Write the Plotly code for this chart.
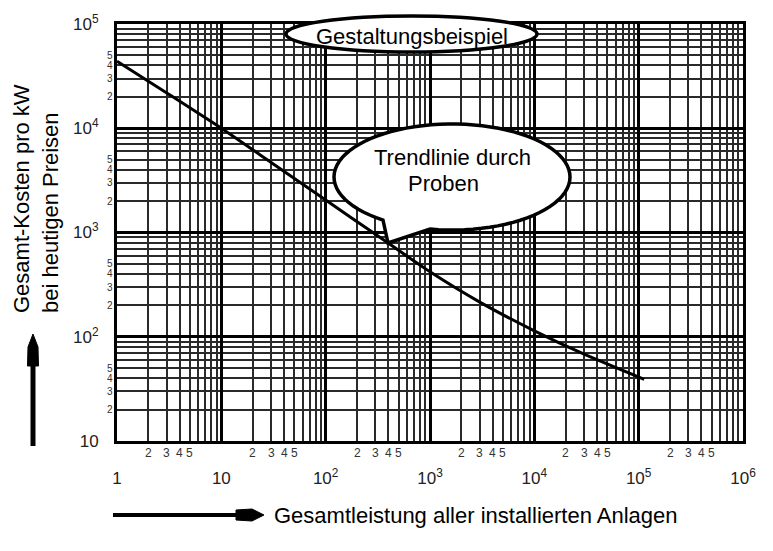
import math
import plotly.graph_objects as go

# ---- data ----
leistung = [1, 3, 10, 30, 100, 300, 1000, 3000, 10000, 30000, 113000]
kosten = [44000, 21800, 10000, 4700, 2050, 960, 420, 215, 114, 68, 39]

x_major = [1, 10, 100, 1000, 10000, 100000, 1000000]
x_major_text = ["1", "10", "10<sup>2</sup>", "10<sup>3</sup>", "10<sup>4</sup>", "10<sup>5</sup>", "10<sup>6</sup>"]
y_major = [10, 100, 1000, 10000, 100000]
y_major_text = ["10", "10<sup>2</sup>", "10<sup>3</sup>", "10<sup>4</sup>", "10<sup>5</sup>"]
minor_digits = [2, 3, 4, 5, 6, 7, 8, 9]
labelled_digits = [2, 3, 4, 5]

x_title = "Gesamtleistung aller installierten Anlagen"
y_title = "Gesamt-Kosten pro kW<br>bei heutigen Preisen"
bubble_top = "Gestaltungsbeispiel"
bubble_lines = ["Trendlinie durch", "Proben"]

W, H = 773, 551
L, R, T, B = 117, 30, 24, 110
PW, PH = W - L - R, H - T - B
FONT = "Liberation Sans, Arial, sans-serif"


def px(x):
    return (x - L) / PW


def py(y):
    return (H - B - y) / PH


fig = go.Figure()
fig.add_trace(go.Scatter(x=leistung, y=kosten, mode="lines",
                         line=dict(color="black", width=3, shape="spline", smoothing=0.6),
                         hoverinfo="skip", showlegend=False))

x_minor = [d * 10 ** k for k in range(0, 6) for d in minor_digits]
y_minor = [d * 10 ** k for k in range(1, 5) for d in minor_digits]

fig.update_xaxes(type="log", range=[0, 6], tickvals=x_major, ticktext=x_major_text,
                 showgrid=True, gridcolor="black", gridwidth=3,
                 showline=True, linecolor="black", linewidth=3, mirror=True,
                 ticks="", ticklabelstandoff=20, zeroline=False,
                 tickfont=dict(family=FONT, size=17, color="#222"),
                 minor=dict(tickvals=x_minor, showgrid=True, gridcolor="#2a2a2a", gridwidth=1.5, ticks=""))
fig.update_yaxes(type="log", range=[1, 5], tickvals=y_major, ticktext=y_major_text,
                 showgrid=True, gridcolor="black", gridwidth=3,
                 showline=True, linecolor="black", linewidth=3, mirror=True,
                 ticks="", ticklabelstandoff=12, zeroline=False,
                 tickfont=dict(family=FONT, size=17, color="#222"),
                 minor=dict(tickvals=y_minor, showgrid=True, gridcolor="#2a2a2a", gridwidth=1.5, ticks=""))

annotations = []
for k in range(0, 6):
    for d in labelled_digits:
        annotations.append(dict(x=math.log10(d * 10 ** k), y=0, xref="x", yref="paper",
                                text=str(d), showarrow=False, xanchor="center", yanchor="top", yshift=-3,
                                font=dict(family=FONT, size=12, color="#333")))
for k in range(1, 5):
    for d in labelled_digits:
        annotations.append(dict(x=0, y=math.log10(d * 10 ** k), xref="paper", yref="y",
                                text=str(d), showarrow=False, xanchor="right", yanchor="middle", xshift=-3,
                                borderpad=0, font=dict(family=FONT, size=10, color="#333")))

annotations.append(dict(x=px(36), y=py(199), xref="paper", yref="paper", text=y_title,
                        textangle=-90, showarrow=False, align="left",
                        xanchor="center", yanchor="middle",
                        font=dict(family=FONT, size=22, color="black")))
annotations.append(dict(x=px(272), y=py(515), xref="paper", yref="paper", text=x_title,
                        xanchor="left", yanchor="middle", showarrow=False,
                        font=dict(family=FONT, size=22, color="black")))

shapes = []
# top ellipse
shapes.append(dict(type="circle", xref="paper", yref="paper",
                   x0=px(286), x1=px(537), y0=py(52), y1=py(16),
                   fillcolor="white", line=dict(color="black", width=3.5), layer="above"))
annotations.append(dict(x=px(412), y=py(36), xref="paper", yref="paper", text=bubble_top,
                        showarrow=False, xanchor="center", yanchor="middle",
                        font=dict(family=FONT, size=22, color="black")))

# speech bubble
cx, cy, rx, ry = 452, 177, 118, 53
t0, t1 = 100.7, 125.8 - 360
n = 80
pts = []
for i in range(n + 1):
    t = math.radians(t0 + (t1 - t0) * i / n)
    pts.append((cx + rx * math.cos(t), cy + ry * math.sin(t)))
pts.append((388, 243))
path = "M " + " L ".join(f"{px(a):.5f},{py(b):.5f}" for a, b in pts) + " Z"
shapes.append(dict(type="path", xref="paper", yref="paper", path=path,
                   fillcolor="white", line=dict(color="black", width=3.5), layer="above"))
annotations.append(dict(x=px(452), y=py(157), xref="paper", yref="paper", text=bubble_lines[0],
                        showarrow=False, xanchor="center", yanchor="middle",
                        font=dict(family=FONT, size=22, color="black")))
annotations.append(dict(x=px(443), y=py(184), xref="paper", yref="paper", text=bubble_lines[1],
                        showarrow=False, xanchor="center", yanchor="middle",
                        font=dict(family=FONT, size=22, color="black")))

# vertical arrow
shapes.append(dict(type="line", xref="paper", yref="paper", x0=px(33), x1=px(33), y0=py(446), y1=py(360),
                   line=dict(color="black", width=5)))
head_v = [(33, 334), (38, 347), (38.5, 366), (27.5, 366), (28, 347)]
shapes.append(dict(type="path", xref="paper", yref="paper",
                   path="M " + " L ".join(f"{px(a):.5f},{py(b):.5f}" for a, b in head_v) + " Z",
                   fillcolor="black", line=dict(color="black", width=1)))
# horizontal arrow
shapes.append(dict(type="line", xref="paper", yref="paper", x0=px(113), x1=px(240), y0=py(515), y1=py(515),
                   line=dict(color="black", width=4)))
head_h = [(236, 510), (252, 509), (264, 515), (252, 521), (236, 520)]
shapes.append(dict(type="path", xref="paper", yref="paper",
                   path="M " + " L ".join(f"{px(a):.5f},{py(b):.5f}" for a, b in head_h) + " Z",
                   fillcolor="black", line=dict(color="black", width=1)))

fig.update_layout(width=W, height=H, margin=dict(l=L, r=R, t=T, b=B),
                  paper_bgcolor="white", plot_bgcolor="white",
                  shapes=shapes, annotations=annotations, showlegend=False,
                  font=dict(family=FONT))
fig.write_html("out.html")
